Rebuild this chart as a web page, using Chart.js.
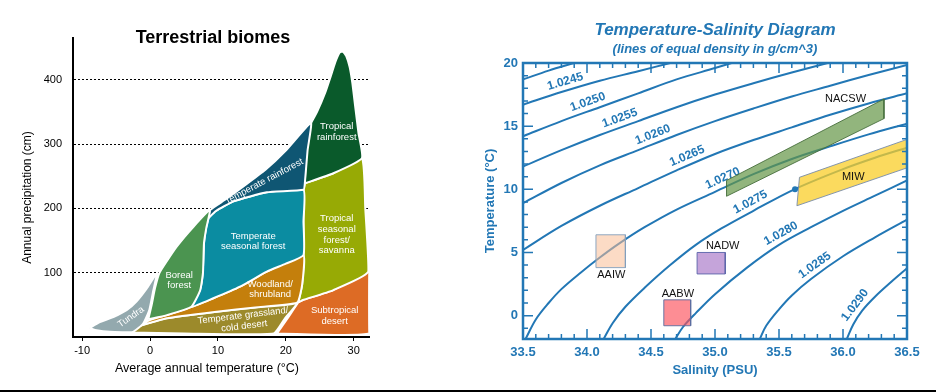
<!DOCTYPE html>
<html>
<head>
  <title>Terrestrial biomes / Temperature-Salinity Diagram</title>
  <meta charset="UTF-8">
  <script src="https://cdn.jsdelivr.net/npm/chart.js"></script>
  <style>
    body { margin: 0; width: 936px; height: 392px; background: #fff; position: relative; overflow: hidden; }
    #biomesChart { position: absolute; left: 0; top: 0; }
    #tsChart { position: absolute; left: 460px; top: 0; }
    .baseline { position: absolute; left: 0; top: 390px; width: 936px; height: 2px; background: #000; }
  </style>
</head>
<body>
  <canvas id="biomesChart" width="460" height="392"></canvas>
  <canvas id="tsChart" width="476" height="392"></canvas>
  <div class="baseline"></div>

  <script>
    Chart.defaults.font.family = '"Liberation Sans", Arial, Helvetica, sans-serif';

    // ---- Terrestrial biomes: points are [temperature °C, precipitation cm] ----
    const temperatureTicks = [-10, 0, 10, 20, 30];
    const precipitationTicks = [100, 200, 300, 400];
    const biomeNames = ['Tundra', 'Boreal forest', 'Temperate rainforest', 'Temperate seasonal forest',
      'Woodland/shrubland', 'Temperate grassland/cold desert', 'Tropical rainforest',
      'Tropical seasonal forest/savanna', 'Subtropical desert'];
    const tundra = [[-8.9, 14], [-7.4, 23], [-5.4, 31], [-3.4, 42], [-2.0, 55], [-0.5, 75], [1.0, 99],
      [0.5, 73], [-0.1, 42], [-1.0, 21], [-2.5, 8], [-5.9, 8], [-8.1, 11], [-8.9, 14]];
    const borealForest = [[-0.25, 27.5], [0.25, 50], [0.74, 76], [1.4, 100], [3.9, 140], [6.4, 171.5],
      [8.8, 197], [8.3, 170], [7.95, 146], [7.8, 100], [7.4, 73], [6.1, 47], [2.5, 34], [-0.25, 27.5]];
    const temperateRainforest = [[8.6, 185], [8.84, 197.5], [11, 213], [14, 236], [17, 260], [20, 290],
      [23.7, 333], [23.2, 290], [22.8, 239], [22.6, 229], [17.2, 225], [12.3, 211], [9.7, 196], [8.6, 185]];
    const temperateSeasonalForest = [[8.6, 185], [9.7, 196], [12.3, 211], [17.2, 225], [22.6, 229],
      [22.6, 180], [22.6, 127.5], [20, 114], [17.2, 101.6], [13.25, 78.2], [9.32, 60.2], [6.14, 47.1],
      [7.36, 73.1], [7.76, 99], [7.95, 145.7], [8.25, 169], [8.6, 185]];
    const woodlandShrubland = [[-1.96, 16], [0, 26.4], [2.46, 34.2], [6.14, 47.1], [9.32, 60.2],
      [13.25, 78.2], [17.19, 101.6], [22.58, 127.5], [22.4, 81], [21.65, 53.3], [15.5, 46], [9.82, 39.3],
      [2.46, 29.1], [-1.96, 16]];
    const temperateGrassland = [[-2.8, 7], [-1.96, 16], [2.46, 29.1], [9.82, 39.3], [15.5, 46],
      [21.65, 53.3], [19.9, 29.5], [18.2, 5.5], [5, 5.5], [-2.8, 7]];
    const tropicalRainforest = [[22.8, 239], [23.0, 290], [23.6, 330], [24.6, 350], [25.8, 380],
      [26.6, 405], [27.3, 428], [27.9, 442], [28.4, 444], [28.9, 437], [29.4, 420], [29.8, 395],
      [30.2, 360], [30.7, 317], [31.2, 278], [27, 254.6], [22.8, 239]];
    const tropicalSeasonal = [[22.8, 239], [27, 254.6], [31.2, 278], [31.7, 200], [32.15, 101.6], [27, 73],
      [22.5, 57.5], [21.9, 54.5], [22.4, 81], [22.6, 127.5], [22.6, 229], [22.8, 239]];
    const subtropicalDesert = [[18.7, 5.5], [20.3, 29.5], [21.9, 54.5], [22.5, 57.5], [27, 73],
      [32.3, 101.6], [32.3, 5.5], [18.7, 5.5]];

    // ---- Temperature-Salinity diagram: points are [salinity PSU, temperature °C] ----
    const salinityTicks = [33.5, 34.0, 34.5, 35.0, 35.5, 36.0, 36.5];
    const tempTicks = [0, 5, 10, 15, 20];
    const densityNames = ['1.0240', '1.0245', '1.0250', '1.0255', '1.0260', '1.0265',
      '1.0270', '1.0275', '1.0280', '1.0285', '1.0290'];
    const iso0240 = [[33.5, 18.7], [33.7, 19.4], [33.9, 20.0]];
    const iso0245 = [[33.5, 16.7], [33.8, 17.7], [34.1, 18.6], [34.4, 19.35], [34.65, 20.0]];
    const iso0250 = [[33.5, 14.2], [33.8, 15.4], [34.1, 16.5], [34.4, 17.6], [34.7, 18.7], [35.0, 19.6], [35.13, 20.0]];
    const iso0255 = [[33.5, 11.8], [33.8, 13.1], [34.1, 14.3], [34.4, 15.4], [34.7, 16.5], [35.0, 17.5],
      [35.3, 18.4], [35.6, 19.25], [35.88, 20.0]];
    const iso0260 = [[33.5, 8.9], [33.8, 10.5], [34.1, 11.9], [34.4, 13.1], [34.7, 14.3], [35.0, 15.4],
      [35.3, 16.4], [35.6, 17.35], [35.9, 18.2], [36.2, 19.05], [36.5, 19.85]];
    const iso0265 = [[33.5, 5.2], [33.8, 7.1], [34.1, 8.7], [34.4, 10.1], [34.7, 11.5], [35.0, 12.8],
      [35.3, 13.9], [35.6, 14.9], [35.9, 15.9], [36.2, 16.8], [36.5, 17.6]];
    const iso0270 = [[33.52, -1.85], [33.6, -0.3], [33.7, 1.0], [33.8, 2.1], [33.95, 3.4], [34.1, 4.6],
      [34.25, 5.7], [34.45, 7.0], [34.7, 8.4], [35.0, 9.8], [35.3, 11.2], [35.6, 12.4], [35.9, 13.4],
      [36.2, 14.35], [36.5, 15.2]];
    const iso0275 = [[34.13, -1.85], [34.2, -0.6], [34.3, 0.7], [34.45, 2.2], [34.65, 4.0], [34.85, 5.6],
      [35.05, 6.9], [35.3, 8.3], [35.62, 10.0], [36.0, 11.6], [36.25, 12.5], [36.5, 13.3]];
    const iso0280 = [[34.69, -1.85], [34.75, -0.9], [34.85, 0.2], [35.0, 1.7], [35.25, 3.8], [35.5, 5.6],
      [35.75, 7.0], [36.0, 8.3], [36.25, 9.5], [36.5, 10.7]];
    const iso0285 = [[35.35, -1.85], [35.4, -0.8], [35.5, 0.5], [35.6, 1.6], [35.75, 2.9], [36.0, 4.7],
      [36.25, 6.2], [36.5, 7.6]];
    const iso0290 = [[36.03, -1.85], [36.08, -0.7], [36.15, 0.4], [36.25, 1.5], [36.38, 2.7], [36.5, 3.75]];
    // salinity where each density label sits (null = unlabelled)
    const densityLabelSalinity = [null, 33.85, 34.03, 34.28, 34.54, 34.81, 35.09, 35.31, 35.55, 35.82, 36.15];

    const waterMassNames = ['NACSW', 'MIW', 'AAIW', 'NADW', 'AABW'];
    const nacsw = [[35.09, 9.45], [35.09, 10.7], [36.32, 17.15], [36.32, 15.6]];
    const miw = [[35.64, 8.7], [35.66, 10.95], [36.5, 13.95], [36.5, 11.7]];
    const aaiw = [[34.07, 3.8], [34.07, 6.4], [34.3, 6.4], [34.3, 3.8]];
    const nadw = [[34.86, 3.3], [34.86, 5.0], [35.08, 5.0], [35.08, 3.3]];
    const aabw = [[34.6, -0.8], [34.6, 1.25], [34.81, 1.25], [34.81, -0.8]];
    const waterMassLabelAt = [[36.02, 17.15], [36.08, 10.95], [34.19, 3.2], [35.06, 5.5], [34.71, 1.72]];
    const miwJoint = [[35.625, 10.0]];

    const toXY = pts => pts.map(([x, y]) => ({x: x, y: y}));

    // ================= Left chart =================
    const biomeShapes = [tundra, borealForest, temperateRainforest, temperateSeasonalForest,
      woodlandShrubland, temperateGrassland, tropicalRainforest, tropicalSeasonal, subtropicalDesert];
    const biomeColors = ['#93a9ae', '#4b9450', '#0f5673', '#0b8ca1', '#c47f0c', '#9c8a2b',
      '#0a5a2b', '#97aa05', '#dd6b25'];
    const biomeText = [
      {lines: ['Tundra'], t: -2.8, p: 31, angle: -35},
      {lines: ['Boreal', 'forest'], t: 4.3, p: 88},
      {lines: ['Temperate rainforest'], t: 16.8, p: 242, angle: -28},
      {lines: ['Temperate', 'seasonal forest'], t: 15.2, p: 149},
      {lines: ['Woodland/', 'shrubland'], t: 17.7, p: 74},
      {lines: ['Temperate grassland/', 'cold desert'], t: 13.8, p: 25, angle: -7},
      {lines: ['Tropical', 'rainforest'], t: 27.5, p: 319},
      {lines: ['Tropical', 'seasonal', 'forest/', 'savanna'], t: 27.5, p: 159},
      {lines: ['Subtropical', 'desert'], t: 27.2, p: 33}
    ];

    const biomeLabels = {
      id: 'biomeLabels',
      afterDatasetsDraw(chart) {
        const {ctx, chartArea, scales: {x, y}} = chart;
        ctx.save();
        ctx.fillStyle = '#fff';
        ctx.font = '9.5px "Liberation Sans", Arial, sans-serif';
        ctx.textAlign = 'center';
        ctx.textBaseline = 'middle';
        biomeText.forEach(lb => {
          ctx.save();
          ctx.translate(x.getPixelForValue(lb.t), y.getPixelForValue(lb.p));
          ctx.rotate((lb.angle || 0) * Math.PI / 180);
          const n = lb.lines.length;
          lb.lines.forEach((s, i) => ctx.fillText(s, 0, (i - (n - 1) / 2) * 10.6));
          ctx.restore();
        });
        ctx.fillStyle = '#000';
        ctx.font = 'bold 18px "Liberation Sans", Arial, sans-serif';
        ctx.fillText('Terrestrial biomes', (chartArea.left + chartArea.right) / 2 - 8, chartArea.top);
        // axis titles, set slightly off-centre as in the original figure
        ctx.font = '12.5px "Liberation Sans", Arial, sans-serif';
        ctx.fillText('Average annual temperature (°C)', (chartArea.left + chartArea.right) / 2 - 14, 369);
        ctx.font = '12px "Liberation Sans", Arial, sans-serif';
        ctx.translate(28, (chartArea.top + chartArea.bottom) / 2 + 10);
        ctx.rotate(-Math.PI / 2);
        ctx.fillText('Annual precipitation (cm)', 0, 0);
        ctx.restore();
      }
    };

    new Chart(document.getElementById('biomesChart'), {
      type: 'scatter',
      data: {
        datasets: biomeShapes.map((pts, i) => ({
          label: biomeNames[i],
          data: toXY(pts),
          showLine: true,
          fill: 'shape',
          backgroundColor: biomeColors[i],
          borderColor: '#fff',
          borderWidth: 2,
          pointRadius: 0,
          tension: 0.15
        }))
      },
      options: {
        responsive: false,
        animation: false,
        layout: {padding: {top: 38, right: 91}},
        plugins: {legend: {display: false}, tooltip: {enabled: false}},
        scales: {
          x: {
            min: -11.34, max: 32.25,
            afterBuildTicks: s => { s.ticks = temperatureTicks.map(v => ({value: v})); },
            afterFit: s => { s.height = 55; },
            grid: {drawOnChartArea: false, color: '#000', tickLength: 4},
            border: {color: '#000', width: 2},
            ticks: {color: '#000', font: {size: 11}, padding: 3}
          },
          y: {
            min: 0, max: 465,
            afterBuildTicks: s => { s.ticks = precipitationTicks.map(v => ({value: v})); },
            afterFit: s => { s.width = 73; },
            grid: {color: '#000', lineWidth: 1, drawTicks: false},
            border: {color: '#000', width: 2, dash: [2, 2]},
            ticks: {color: '#000', font: {size: 11}, padding: 11}
          }
        }
      },
      plugins: [biomeLabels]
    });

    // ================= Right chart =================
    const tsBlue = '#2277b5';
    const isopycnals = [iso0240, iso0245, iso0250, iso0255, iso0260, iso0265,
      iso0270, iso0275, iso0280, iso0285, iso0290];
    const waterMasses = [nacsw, miw, aaiw, nadw, aabw];
    const waterMassFill = ['rgba(100,150,70,0.7)', 'rgba(250,205,40,0.75)', 'rgba(250,190,150,0.55)',
      'rgba(172,126,202,0.7)', 'rgba(252,80,90,0.65)'];
    const waterMassEdge = ['rgba(70,110,60,0.9)', 'rgba(120,140,170,0.9)', 'rgba(130,160,190,0.9)',
      'rgba(90,100,170,0.9)', 'rgba(90,110,160,0.9)'];

    function tempOnLine(pts, s) {
      for (let i = 1; i < pts.length; i++) {
        if (s <= pts[i][0]) {
          const f = (s - pts[i - 1][0]) / (pts[i][0] - pts[i - 1][0]);
          return pts[i - 1][1] + f * (pts[i][1] - pts[i - 1][1]);
        }
      }
      return pts[pts.length - 1][1];
    }

    const contourLabels = {
      id: 'contourLabels',
      beforeDatasetsDraw(chart) {
        const {ctx, scales: {x, y}} = chart;
        ctx.save();
        ctx.fillStyle = tsBlue;
        ctx.font = 'bold 12px "Liberation Sans", Arial, sans-serif';
        ctx.textAlign = 'center';
        ctx.textBaseline = 'middle';
        densityLabelSalinity.forEach((s, i) => {
          if (s === null) return;
          const pts = isopycnals[i];
          const ax = x.getPixelForValue(s - 0.05), ay = y.getPixelForValue(tempOnLine(pts, s - 0.05));
          const bx = x.getPixelForValue(s + 0.05), by = y.getPixelForValue(tempOnLine(pts, s + 0.05));
          const ang = Math.atan2(by - ay, bx - ax);
          const cx = x.getPixelForValue(s), cy = y.getPixelForValue(tempOnLine(pts, s));
          ctx.save();
          ctx.translate(cx + 9 * Math.sin(ang), cy - 9 * Math.cos(ang));
          ctx.rotate(ang);
          ctx.fillText(densityNames[i], 0, 0);
          ctx.restore();
        });
        ctx.restore();
      },
      afterDatasetsDraw(chart) {
        const {ctx, scales: {x, y}} = chart;
        ctx.save();
        ctx.fillStyle = '#111';
        ctx.font = '11px "Liberation Sans", Arial, sans-serif';
        ctx.textAlign = 'center';
        ctx.textBaseline = 'middle';
        waterMassLabelAt.forEach(([s, t], i) => {
          ctx.fillText(waterMassNames[i], x.getPixelForValue(s), y.getPixelForValue(t));
        });
        ctx.restore();
      }
    };

    const frameTicks = {
      id: 'frameTicks',
      afterDraw(chart) {
        const {ctx, chartArea: a, scales: {x, y}} = chart;
        ctx.save();
        ctx.strokeStyle = tsBlue;
        ctx.lineWidth = 1.5;
        ctx.beginPath();
        for (let k = 336; k <= 364; k++) {
          const px = x.getPixelForValue(k / 10);
          const len = k % 5 === 0 ? 10 : 5;
          ctx.moveTo(px, a.bottom); ctx.lineTo(px, a.bottom - len);
          ctx.moveTo(px, a.top); ctx.lineTo(px, a.top + len);
        }
        for (let t = -1; t <= 19; t++) {
          const py = y.getPixelForValue(t);
          const len = t % 5 === 0 ? 10 : 5;
          ctx.moveTo(a.left, py); ctx.lineTo(a.left + len, py);
          ctx.moveTo(a.right, py); ctx.lineTo(a.right - len, py);
        }
        ctx.stroke();
        ctx.lineWidth = 2.5;
        ctx.strokeRect(a.left, a.top, a.right - a.left, a.bottom - a.top);
        ctx.restore();
      }
    };

    const tsDatasets = isopycnals.map((pts, i) => ({
      label: densityNames[i],
      data: toXY(pts),
      showLine: true,
      borderColor: tsBlue,
      borderWidth: 2,
      pointRadius: 0,
      tension: 0.35,
      order: 2
    }));
    waterMasses.forEach((pts, i) => tsDatasets.push({
      label: waterMassNames[i],
      data: toXY(pts.concat([pts[0]])),
      showLine: true,
      fill: 'shape',
      backgroundColor: waterMassFill[i],
      borderColor: waterMassEdge[i],
      borderWidth: 1,
      pointRadius: 0,
      tension: 0,
      order: 1
    }));
    tsDatasets.push({
      label: 'joint',
      data: toXY(miwJoint),
      pointRadius: 3,
      pointBackgroundColor: tsBlue,
      pointBorderWidth: 0,
      order: 0
    });

    new Chart(document.getElementById('tsChart'), {
      type: 'scatter',
      data: {datasets: tsDatasets},
      options: {
        responsive: false,
        animation: false,
        layout: {padding: {right: 29}},
        plugins: {
          legend: {display: false},
          tooltip: {enabled: false},
          title: {
            display: true, fullSize: false, text: 'Temperature-Salinity Diagram', color: tsBlue,
            font: {size: 17, weight: 'bold', style: 'italic'}, padding: {top: 20, bottom: 0}
          },
          subtitle: {
            display: true, fullSize: false, text: '(lines of equal density in g/cm^3)', color: tsBlue,
            font: {size: 13, weight: 'bold', style: 'italic'}, padding: {top: 1, bottom: 6}
          }
        },
        scales: {
          x: {
            min: 33.5, max: 36.5,
            afterBuildTicks: s => { s.ticks = salinityTicks.map(v => ({value: v})); },
            afterFit: s => { s.height = 53; },
            grid: {display: false, drawTicks: false},
            border: {display: false},
            ticks: {color: tsBlue, font: {size: 13, weight: 'bold'}, padding: 6,
              callback: v => Number(v).toFixed(1)},
            title: {display: true, text: 'Salinity (PSU)', color: tsBlue,
              font: {size: 13, weight: 'bold'}, padding: {top: 0, bottom: 14}}
          },
          y: {
            min: -1.85, max: 20,
            afterBuildTicks: s => { s.ticks = tempTicks.map(v => ({value: v})); },
            afterFit: s => { s.width = 63; },
            grid: {display: false, drawTicks: false},
            border: {display: false},
            ticks: {color: tsBlue, font: {size: 13, weight: 'bold'}, padding: 5},
            title: {display: true, text: 'Temperature (°C)', color: tsBlue,
              font: {size: 13, weight: 'bold'}, padding: {top: 23, bottom: 0}}
          }
        }
      },
      plugins: [contourLabels, frameTicks]
    });
  </script>
</body>
</html>
